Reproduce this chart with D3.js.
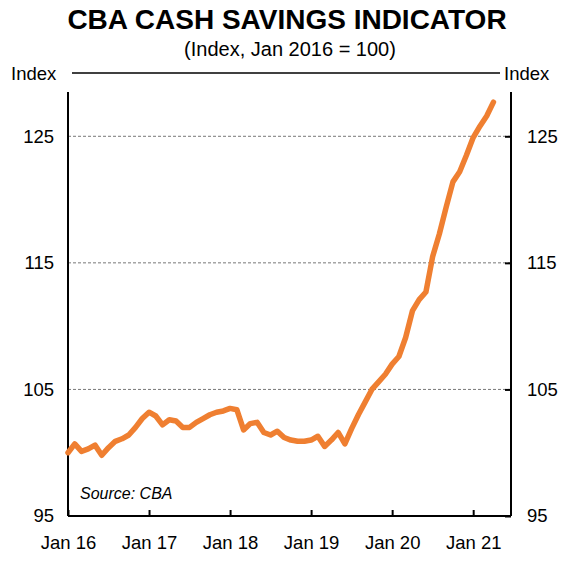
<!DOCTYPE html>
<html><head><meta charset="utf-8">
<script src="https://cdn.jsdelivr.net/npm/d3@7"></script>
<style>body{margin:0;background:#fff}svg{font-family:Arial,"Liberation Sans",sans-serif}</style>
</head><body><svg id="c" width="574" height="574"></svg>
<script>
// monthly index, Jan 2016 .. Apr 2021
var values = [100.0,100.7,100.1,100.3,100.6,99.8,100.4,100.9,101.1,101.4,102.0,102.7,
  103.2,102.9,102.2,102.6,102.5,102.0,102.0,102.4,102.7,103.0,103.2,103.3,
  103.5,103.4,101.8,102.3,102.4,101.6,101.4,101.7,101.2,101.0,100.9,100.9,
  101.0,101.3,100.5,101.0,101.6,100.7,101.9,103.0,104.0,105.0,105.6,106.2,
  107.0,107.6,109.1,111.2,112.1,112.7,115.5,117.3,119.4,121.4,122.2,123.5,
  124.9,125.8,126.6,127.7];
var yTicks = [95, 105, 115, 125];
var xLabels = ["Jan 16","Jan 17","Jan 18","Jan 19","Jan 20","Jan 21"];

var svg = d3.select("#c");
var L = 68, R = 511, T = 73, B = 516;
var FS = 18.5;
var x = d3.scaleLinear().domain([0, 65.6]).range([L, R]);
var y = d3.scaleLinear().domain([95, 130]).range([B, T]);

svg.append("text").attr("x", 287).attr("y", 29).attr("text-anchor", "middle")
  .attr("font-size", 28).attr("font-weight", "bold").text("CBA CASH SAVINGS INDICATOR");
svg.append("text").attr("x", 290).attr("y", 56).attr("text-anchor", "middle")
  .attr("font-size", 20).text("(Index, Jan 2016 = 100)");
svg.append("text").attr("x", 11).attr("y", 80).attr("font-size", FS).text("Index");
svg.append("text").attr("x", 504).attr("y", 80).attr("font-size", FS).text("Index");
svg.append("line").attr("x1", 72).attr("x2", 500).attr("y1", 73).attr("y2", 73)
  .attr("stroke", "#000").attr("stroke-width", 1.5);

// grid
svg.selectAll(".g").data(yTicks.slice(1)).enter().append("line")
  .attr("x1", L).attr("x2", R).attr("y1", y).attr("y2", y)
  .attr("stroke", "#777").attr("stroke-dasharray", "3,2").attr("stroke-width", 1);

// axes
svg.append("g").attr("transform", "translate(" + L + ",0)")
  .call(d3.axisLeft(y).tickValues(yTicks).tickSize(0).tickPadding(14))
  .call(function(g){ g.select(".domain").attr("stroke-width", 2).attr("d", "M0," + 92 + "V" + B); })
  .selectAll("text").attr("font-size", FS).attr("font-family", "Arial, Liberation Sans, sans-serif");
svg.append("g").attr("transform", "translate(" + R + ",0)")
  .call(d3.axisRight(y).tickValues(yTicks).tickSize(-6).tickPadding(16))
  .call(function(g){ g.select(".domain").attr("stroke-width", 2).attr("d", "M0," + 92 + "V" + B); g.selectAll("line").attr("stroke-width", 2); })
  .selectAll("text").attr("font-size", FS).attr("font-family", "Arial, Liberation Sans, sans-serif");
svg.append("g").attr("transform", "translate(0," + B + ")")
  .call(d3.axisBottom(x).tickValues([0,12,24,36,48,60]).tickSize(-6).tickPadding(20)
    .tickFormat(function(d, i){ return xLabels[i]; }))
  .call(function(g){ g.select(".domain").attr("stroke-width", 2).attr("d", "M" + L + ",0H" + R); g.selectAll("line").attr("stroke-width", 2); })
  .selectAll("text").attr("font-size", FS).attr("font-family", "Arial, Liberation Sans, sans-serif");

svg.append("path").datum(values)
  .attr("d", d3.line().x(function(d, i){ return x(i); }).y(function(d){ return y(d); }))
  .attr("fill", "none").attr("stroke", "#ef7f31").attr("stroke-width", 5.5)
  .attr("stroke-linejoin", "round").attr("stroke-linecap", "round");

svg.append("text").attr("x", 80).attr("y", 499).attr("font-size", 16)
  .attr("font-style", "italic").text("Source: CBA");
</script></body></html>
